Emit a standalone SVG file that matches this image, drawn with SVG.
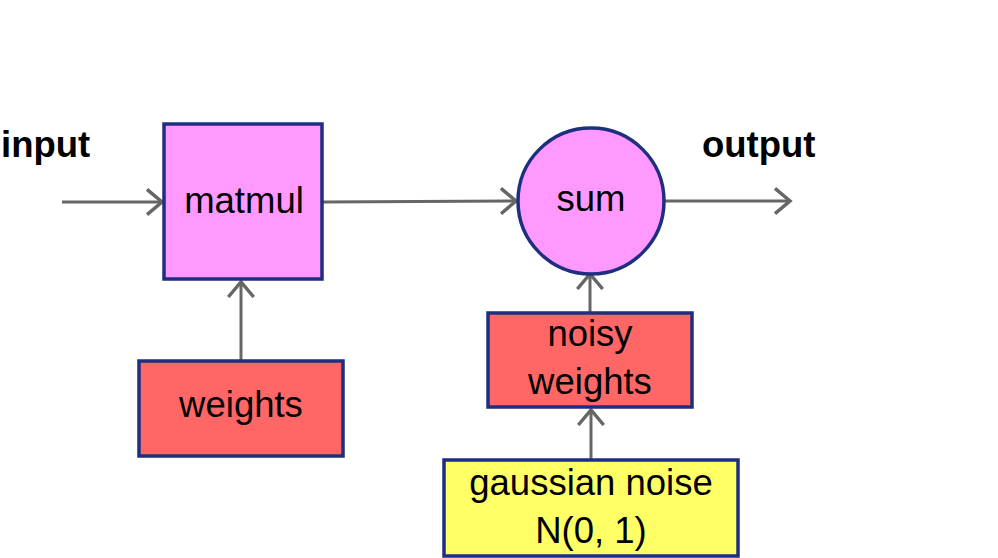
<svg xmlns="http://www.w3.org/2000/svg" width="998" height="558" viewBox="0 0 998 558">
<defs>
<style>
.box{stroke:#1f2f7f;stroke-width:3.5}
.mag{fill:#ff99ff}
.red{fill:#ff6666}
.yel{fill:#ffff66}
.t{font-family:"Liberation Sans",Arial,sans-serif;font-size:36.5px;fill:#000;text-anchor:middle}
.b{font-weight:bold;text-anchor:start}
.c{fill:none;stroke:#666;stroke-width:3}
</style>
<marker id="ah" markerUnits="userSpaceOnUse" markerWidth="30" markerHeight="30" refX="0" refY="0" viewBox="-16 -13 18 26" orient="auto" overflow="visible">
<path d="M-13,-11 L0,0 L-13,11" fill="none" stroke="#666" stroke-width="3"/>
</marker>
</defs>
<rect width="998" height="558" fill="#fff"/>
<g id="connectors">
<line class="c" x1="62" y1="202" x2="162" y2="202" marker-end="url(#ah)"/>
<line class="c" x1="323" y1="202" x2="516" y2="201" marker-end="url(#ah)"/>
<line class="c" x1="665" y1="201" x2="790" y2="201" marker-end="url(#ah)"/>
<line class="c" x1="241" y1="360" x2="241" y2="282" marker-end="url(#ah)"/>
<line class="c" x1="590" y1="312" x2="590" y2="274" marker-end="url(#ah)"/>
<line class="c" x1="591" y1="459" x2="591" y2="410" marker-end="url(#ah)"/>
</g>
<g id="input"><text class="t b" x="1" y="157">input</text></g>
<g id="output"><text class="t b" x="702" y="157">output</text></g>
<g id="matmul">
<rect class="box mag" x="164" y="124" width="158" height="155"/>
<text class="t" x="244" y="213">matmul</text>
</g>
<g id="sum">
<circle class="box mag" cx="591" cy="201" r="73"/>
<text class="t" x="591" y="211">sum</text>
</g>
<g id="weights">
<rect class="box red" x="139" y="361" width="204" height="95"/>
<text class="t" x="241" y="417">weights</text>
</g>
<g id="noisy_weights">
<rect class="box red" x="488" y="313" width="204" height="94"/>
<text class="t" x="590" y="346">noisy</text>
<text class="t" x="590" y="394">weights</text>
</g>
<g id="gaussian_noise">
<rect class="box yel" x="444" y="460" width="294" height="96"/>
<text class="t" x="591" y="495">gaussian noise</text>
<text class="t" x="591" y="543">N(0, 1)</text>
</g>
</svg>
